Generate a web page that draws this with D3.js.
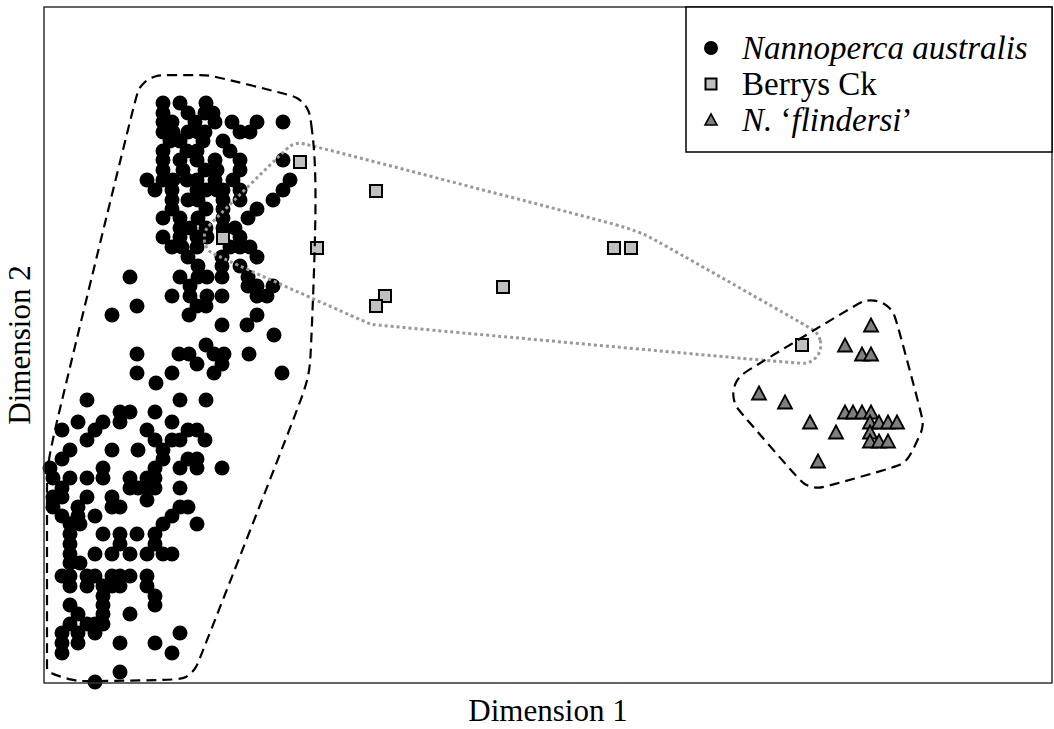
<!DOCTYPE html>
<html lang="en">
<head>
	<meta charset="UTF-8">
	<title>MDS plot</title>
	<script src="https://cdnjs.cloudflare.com/ajax/libs/d3/7.8.5/d3.min.js"></script>
	<style>
		body { margin: 0; background: #fff; }
	</style>
</head>
<body>

<script type="text/javascript">
	// MDS coordinates (Dimension 1, Dimension 2)
	var australis = [
		[1.19,5.80],[1.36,5.80],[1.62,5.80],
		[1.19,5.70],[1.44,5.70],[1.61,5.70],[1.69,5.70],
		[1.19,5.61],[1.28,5.61],[1.51,5.61],[1.71,5.61],[1.88,5.61],[2.13,5.61],[2.39,5.61],
		[1.19,5.51],[1.29,5.51],[1.44,5.51],[1.54,5.51],[1.61,5.51],[1.96,5.51],[2.06,5.51],
		[1.26,5.42],[1.36,5.42],[1.59,5.42],[1.79,5.42],
		[1.19,5.32],[1.43,5.32],[1.53,5.32],[1.86,5.32],
		[1.19,5.23],[1.36,5.23],[1.53,5.23],[1.71,5.23],[1.96,5.23],[2.39,5.23],
		[1.19,5.13],[1.39,5.13],[1.61,5.13],[1.73,5.13],[1.96,5.13],
		[1.03,5.03],[1.19,5.03],[1.29,5.03],[1.43,5.03],[1.53,5.03],[1.71,5.03],[1.89,5.03],[2.46,5.03],
		[1.11,4.93],[1.28,4.93],[1.53,4.93],[1.62,4.93],[1.73,4.93],[1.79,4.93],[1.96,4.93],[2.39,4.93],
		[1.28,4.83],[1.44,4.83],[1.54,4.83],[1.79,4.83],[1.96,4.83],[2.29,4.83],
		[1.28,4.74],[1.62,4.74],[1.79,4.74],[2.13,4.74],
		[1.19,4.65],[1.36,4.65],[1.54,4.65],[1.79,4.65],[2.04,4.65],
		[1.36,4.55],[1.46,4.55],[1.62,4.55],[1.79,4.55],[1.91,4.55],
		[1.19,4.46],[1.36,4.46],[1.53,4.46],[1.63,4.46],[1.96,4.46],
		[1.28,4.36],[1.38,4.36],[1.53,4.36],[1.86,4.36],[1.96,4.36],[2.06,4.36],
		[1.44,4.26],[1.78,4.26],[2.13,4.26],
		[1.54,4.17],[1.78,4.17],[1.96,4.17],
		[0.86,4.06],[1.36,4.06],[1.54,4.06],[1.63,4.06],[1.78,4.06],[2.04,4.06],
		[1.46,3.97],[2.04,3.97],[2.13,3.97],[2.29,3.97],
		[1.28,3.87],[1.46,3.87],[1.63,3.87],[1.78,3.87],[2.13,3.87],[2.23,3.87],
		[0.93,3.77],[1.53,3.77],[1.62,3.77],
		[0.68,3.68],[1.45,3.68],[2.13,3.68],
		[1.78,3.58],[2.03,3.58],
		[2.30,3.48],
		[1.62,3.38],
		[0.93,3.29],[1.35,3.29],[1.45,3.29],[1.70,3.29],[1.80,3.29],[2.05,3.29],
		[1.53,3.19],[1.78,3.19],
		[0.93,3.10],[1.28,3.10],[1.70,3.10],[2.38,3.10],
		[1.12,3.00],
		[0.43,2.83],[1.36,2.83],[1.62,2.83],
		[0.76,2.71],[0.86,2.71],[1.11,2.71],
		[0.34,2.61],[0.59,2.61],[0.76,2.61],[1.28,2.61],
		[0.18,2.53],[0.51,2.53],[1.03,2.53],[1.44,2.53],[1.53,2.53],
		[0.43,2.43],[1.11,2.43],[1.28,2.43],[1.36,2.43],[1.61,2.43],
		[0.26,2.33],[0.68,2.33],[0.94,2.33],[1.19,2.33],
		[0.18,2.24],[1.19,2.24],[1.44,2.24],[1.53,2.24],
		[0.06,2.15],[0.59,2.15],[1.11,2.15],[1.36,2.15],[1.53,2.15],[1.78,2.15],
		[0.09,2.05],[0.26,2.05],[0.43,2.05],[0.59,2.05],[0.86,2.05],[1.03,2.05],[1.11,2.05],
		[0.18,1.95],[0.86,1.95],[0.94,1.95],[1.03,1.95],[1.11,1.95],[1.36,1.95],
		[0.09,1.86],[0.18,1.86],[0.43,1.86],[0.68,1.86],
		[1.03,1.83],
		[0.09,1.76],[0.34,1.76],[0.68,1.76],[0.76,1.76],[1.36,1.76],[1.44,1.76],
		[0.18,1.67],[0.34,1.67],[0.51,1.67],[1.28,1.67],
		[0.26,1.59],[0.36,1.59],[1.19,1.59],[1.53,1.59],
		[0.26,1.49],[0.59,1.49],[0.76,1.49],[0.93,1.49],[1.11,1.49],
		[0.26,1.39],[0.76,1.39],[1.11,1.39],
		[0.26,1.29],[0.51,1.29],[0.68,1.29],[0.86,1.29],[1.03,1.29],[1.19,1.29],[1.28,1.29],
		[0.26,1.20],[0.36,1.20],
		[0.18,1.07],[0.26,1.07],[0.43,1.07],[0.51,1.07],[0.68,1.07],[0.76,1.07],[0.86,1.07],[1.03,1.07],
		[0.26,0.97],[0.43,0.97],[0.59,0.97],[0.68,0.97],[0.76,0.97],[1.03,0.97],
		[0.59,0.87],[1.11,0.87],
		[0.26,0.78],[0.59,0.78],[1.11,0.78],
		[0.34,0.69],[0.59,0.69],[0.86,0.69],
		[0.26,0.59],[0.43,0.59],[0.51,0.59],[0.59,0.59],
		[0.18,0.50],[0.34,0.50],[0.51,0.50],[1.36,0.50],
		[0.18,0.40],[0.34,0.40],[0.76,0.40],[1.11,0.40],
		[0.18,0.30],[1.28,0.30],
		[0.76,0.11],
		[0.51,0.01]
	];

	var berrys = [
		[2.56,5.21],[3.32,4.92],[1.79,4.45],[2.73,4.35],[5.70,4.35],
		[5.87,4.35],[4.59,3.96],[3.41,3.87],[3.32,3.77],[7.58,3.38]
	];

	var flindersi = [
		[8.27,3.57],[8.01,3.37],[8.18,3.28],[8.27,3.28],[7.15,2.89],[7.41,2.80],
		[7.66,2.60],[7.92,2.50],[8.01,2.70],[8.09,2.70],[8.18,2.70],[8.27,2.70],
		[8.26,2.60],[8.35,2.60],[8.44,2.60],[8.53,2.60],[8.26,2.50],[8.26,2.41],
		[8.35,2.41],[8.44,2.41],[7.74,2.21]
	];

	var legendLabels = ['Nannoperca australis', 'Berrys Ck', 'N. \u2018flindersi\u2019'];

	var serif = '"Liberation Serif", "Times New Roman", "DejaVu Serif", serif';

	var margin = {top: 7, left: 44, bottom: 46, right: 2};
	var W = 1054, H = 729;
	var width = W - margin.left - margin.right;
	var height = H - margin.top - margin.bottom;

	var svg = d3.select('body')
		.append('svg')
		.attr('width', W)
		.attr('height', H)
		.style('font-family', serif);

	var g = svg.append('g')
		.attr('transform', 'translate(' + margin.left + ',' + margin.top + ')');

	var x = d3.scaleLinear().domain([0, 10.08]).range([0, width]);
	var y = d3.scaleLinear().domain([0, 6.76]).range([height, 0]);

	var triPath = 'M0,-7.5L7,5.5L-7,5.5Z';

	// smoothed hull: convex hull of points grown by r, kept inside the frame
	function grownHull(data, r) {
		var ring = [];
		data.forEach(function (d) {
			for (var k = 0; k < 24; k++) {
				var a = k / 24 * 2 * Math.PI;
				ring.push([x(d[0]) + r * Math.cos(a), y(d[1]) + r * Math.sin(a)]);
			}
		});
		return d3.polygonHull(ring).map(function (p) {
			return [Math.max(3, Math.min(width - 3, p[0])), Math.max(3, Math.min(height - 2, p[1]))];
		});
	}

	var line = d3.line().curve(d3.curveBasisClosed);

	// points
	g.selectAll('.aus')
		.data(australis)
		.enter().append('circle')
		.attr('class', 'aus')
		.attr('cx', function (d) { return x(d[0]); })
		.attr('cy', function (d) { return y(d[1]); })
		.attr('r', 7.5)
		.style('fill', '#000');

	g.selectAll('.fli')
		.data(flindersi)
		.enter().append('path')
		.attr('class', 'fli')
		.attr('d', triPath)
		.attr('transform', function (d) { return 'translate(' + x(d[0]) + ',' + y(d[1]) + ')'; })
		.style('fill', '#7f7f7f')
		.style('stroke', '#000')
		.style('stroke-width', 1.8);

	g.selectAll('.ber')
		.data(berrys)
		.enter().append('rect')
		.attr('class', 'ber')
		.attr('x', function (d) { return x(d[0]) - 6; })
		.attr('y', function (d) { return y(d[1]) - 6; })
		.attr('width', 12)
		.attr('height', 12)
		.style('fill', '#c0c0c0')
		.style('stroke', '#000')
		.style('stroke-width', 2);

	// group outlines
	g.append('path')
		.attr('d', line(grownHull(berrys, 19)))
		.style('fill', 'none')
		.style('stroke', '#999')
		.style('stroke-width', 3)
		.style('stroke-dasharray', '3,3');

	g.append('path')
		.attr('d', line(grownHull(australis, 28)))
		.style('fill', 'none')
		.style('stroke', '#000')
		.style('stroke-width', 2.2)
		.style('stroke-dasharray', '10,6');

	g.append('path')
		.attr('d', line(grownHull(flindersi, 26)))
		.style('fill', 'none')
		.style('stroke', '#000')
		.style('stroke-width', 2.2)
		.style('stroke-dasharray', '10,6');

	// frame
	g.append('rect')
		.attr('width', width)
		.attr('height', height)
		.style('fill', 'none')
		.style('stroke', '#333')
		.style('stroke-width', 1.5);

	// legend
	var legend = g.append('g')
		.attr('transform', 'translate(' + (width - 366) + ',0)');
	legend.append('rect')
		.attr('width', 366)
		.attr('height', 145)
		.style('fill', '#fff')
		.style('stroke', '#000')
		.style('stroke-width', 1.5);

	var item = legend.selectAll('.info')
		.data(legendLabels)
		.enter().append('g')
		.attr('class', 'info')
		.attr('transform', function (d, i) { return 'translate(25,' + (41 + i * 36) + ')'; });

	item.filter(function (d, i) { return i === 0; }).append('circle')
		.attr('r', 7).style('fill', '#000');
	item.filter(function (d, i) { return i === 1; }).append('rect')
		.attr('x', -5.5).attr('y', -5.5).attr('width', 11).attr('height', 11)
		.style('fill', '#c0c0c0').style('stroke', '#000').style('stroke-width', 2);
	item.filter(function (d, i) { return i === 2; }).append('path')
		.attr('d', 'M0,-6L6,5L-6,5Z')
		.style('fill', '#7f7f7f').style('stroke', '#000').style('stroke-width', 1.6);

	var txt = item.append('text')
		.attr('x', 31)
		.attr('dy', '0.33em')
		.attr('font-family', serif)
		.style('font-size', '33px');
	txt.filter(function (d, i) { return i === 0; })
		.style('font-style', 'italic')
		.text(function (d) { return d; });
	txt.filter(function (d, i) { return i === 1; })
		.text(function (d) { return d; });
	var t3 = txt.filter(function (d, i) { return i === 2; });
	t3.append('tspan').style('font-style', 'italic').text('N.');
	t3.append('tspan').text(' \u2018');
	t3.append('tspan').style('font-style', 'italic').text('flindersi');
	t3.append('tspan').text('\u2019');

	// axis titles
	svg.append('text')
		.attr('x', margin.left + width / 2)
		.attr('y', 721)
		.attr('text-anchor', 'middle')
		.attr('font-family', serif)
		.style('font-size', '31px')
		.text('Dimension 1');

	svg.append('text')
		.attr('transform', 'translate(30,' + (margin.top + height / 2) + ') rotate(-90)')
		.attr('text-anchor', 'middle')
		.attr('font-family', serif)
		.style('font-size', '31px')
		.text('Dimension 2');
</script>
</body>
</html>
